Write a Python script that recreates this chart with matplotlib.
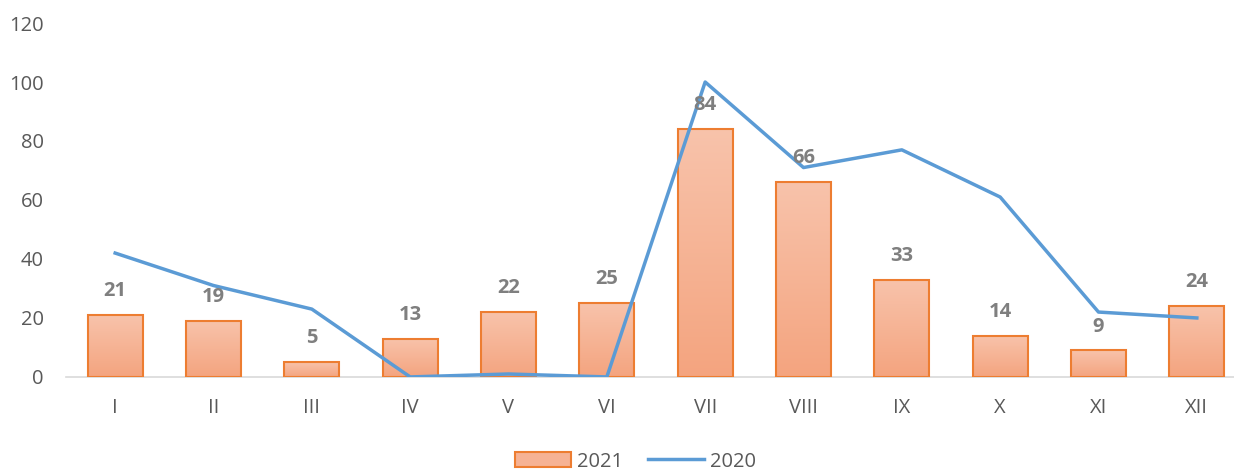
import numpy as np
import matplotlib.pyplot as plt
from matplotlib.patches import Patch
from matplotlib.lines import Line2D
from matplotlib.colors import LinearSegmentedColormap

# data
months = ['I', 'II', 'III', 'IV', 'V', 'VI', 'VII', 'VIII', 'IX', 'X', 'XI', 'XII']
values_2021 = [21, 19, 5, 13, 22, 25, 84, 66, 33, 14, 9, 24]
values_2020 = [42, 31, 23, 0, 1, 0, 100, 71, 77, 61, 22, 20]

plt.rcParams['font.family'] = ['Open Sans', 'DejaVu Sans']

fig = plt.figure(figsize=(12.34, 4.70), dpi=100)
ax = fig.add_axes([66 / 1234, 0.198, 1180 / 1234, 0.753])

x = np.arange(len(months))
bars = ax.bar(x, values_2021, width=0.56, color='none', edgecolor='#ED7D31',
              linewidth=1.5, zorder=3)

# gradient fill, lighter at top of each bar
cmap = LinearSegmentedColormap.from_list('grad', ['#F4A47F', '#F8C3AB'])
grad = np.linspace(0, 1, 256).reshape(-1, 1)
for b in bars:
    x0, y0 = b.get_x(), b.get_y()
    w, h = b.get_width(), b.get_height()
    im = ax.imshow(grad, cmap=cmap, aspect='auto', origin='lower',
                   extent=[x0, x0 + w, y0, y0 + h], zorder=2)
    im.set_clip_path(b)

ax.plot(x, values_2020, color='#5B9BD5', linewidth=2.5, zorder=4)

for xi, v in zip(x, values_2021):
    ax.annotate(str(v), (xi, v), xytext=(0, 10), textcoords='offset points',
                ha='center', va='bottom', fontsize=14.5, fontweight='bold',
                color='#7F7F7F', zorder=5)

ax.set_xlim(-0.5, len(months) - 0.5)
ax.set_ylim(0, 120)
ax.set_yticks(range(0, 121, 20))
ax.set_xticks(x)
ax.set_xticklabels(months)
ax.tick_params(axis='both', length=0, labelsize=14.5, labelcolor='#595959')
ax.tick_params(axis='x', pad=15)
ax.tick_params(axis='y', pad=16)
for s in ['top', 'right', 'left']:
    ax.spines[s].set_visible(False)
ax.spines['bottom'].set_color('#D9D9D9')
ax.spines['bottom'].set_linewidth(1.2)

handles = [Patch(facecolor='#F6B294', edgecolor='#ED7D31', linewidth=1.5),
           Line2D([0], [0], color='#5B9BD5', linewidth=2.5)]
fig.legend(handles, ['2021', '2020'], loc='center', bbox_to_anchor=(0.515, 0.018),
           ncol=2, frameon=False, fontsize=14.5, labelcolor='#595959',
           handlelength=2.8, handleheight=0.8, columnspacing=1.2, handletextpad=0.3)

fig.savefig('out.png', dpi=100)
